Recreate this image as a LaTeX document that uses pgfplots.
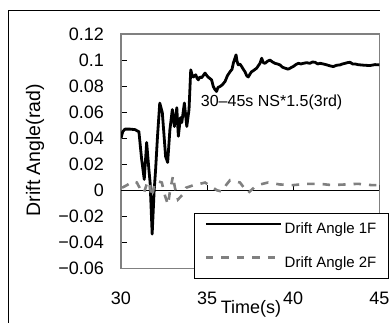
\documentclass[border=0pt]{standalone}
\usepackage{pgfplots}
\pgfplotsset{compat=1.18}
\usepackage{fontspec}
\setmainfont{Liberation Sans}
\begin{document}
\begin{tikzpicture}[x=1pt,y=1pt]
\useasboundingbox (0,0) rectangle (390,-323);
\draw[black, line width=1pt] (8,-323) -- (8,-11) -- (380,-11);
\begin{axis}[
  at={(121pt,-268.5pt)}, anchor=south west,
  scale only axis, width=258.3pt, height=234.5pt,
  xmin=30, xmax=45, ymin=-0.06, ymax=0.12,
  axis line style={draw=gray, line width=1.6pt},
  xtick={30,35,40,45}, xticklabels={30,35,40,45},
  ytick={-0.06,-0.04,-0.02,0,0.02,0.04,0.06,0.08,0.1,0.12},
  yticklabels={−0.06,−0.04,−0.02,0,0.02,0.04,0.06,0.08,0.1,0.12},
  tick pos=left, tick align=inside,
  x tick style={draw=none},
  y tick style={black, line width=0.8pt},
  major tick length=6pt,
  yticklabel style={font=\fontsize{18}{20}\selectfont, anchor=east, inner sep=0pt, xshift=-17pt},
  xticklabel style={font=\fontsize{18}{20}\selectfont, anchor=north, inner sep=0pt, yshift=-23pt},
  xlabel={Time(s)}, ylabel={Drift Angle(rad)},
  xlabel style={font=\fontsize{18}{20}\selectfont, at={(axis description cs:0.503,0)}, anchor=center, yshift=-40.5pt},
  ylabel style={font=\fontsize{19.5}{21}\selectfont, at={(axis description cs:-0.333,0.505)}, anchor=center},
  legend style={at={(0.2826,0.2367)}, anchor=north west, draw=black, line width=0.8pt, fill=white,
    font=\fontsize{15}{17}\selectfont, inner xsep=10pt, inner ysep=7pt, row sep=16pt, nodes={inner sep=2.5pt}},
  legend cell align=left,
  legend image code/.code={\draw[#1] (0pt,5pt) -- (75pt,5pt);},
]
\addplot[black, line width=0.8pt, forget plot] coordinates {(30,0) (45,0)};
\draw[black, line width=0.8pt] (axis cs:35,0) -- ++(0pt,5.5pt);
\draw[black, line width=0.8pt] (axis cs:40,0) -- ++(0pt,5.5pt);
\draw[black, line width=0.8pt] (axis cs:45,0) -- ++(0pt,5.5pt);
\addplot[black, line width=2.8pt, line join=round] coordinates {
(30.00,0.040) (30.10,0.045) (30.23,0.047) (30.52,0.047) (30.81,0.0466) (31.04,0.045) (31.20,0.0237)
(31.35,0.0084) (31.49,0.0367) (31.62,0.016) (31.69,0.006) (31.81,-0.0336) (31.92,-0.0015)
(32.01,0.016) (32.12,0.0415) (32.25,0.067) (32.40,0.0596) (32.59,0.026) (32.71,0.0214)
(32.84,0.0466) (32.98,0.062) (33.10,0.049) (33.24,0.0634) (33.33,0.0415) (33.45,0.0558)
(33.53,0.052) (33.68,0.067) (33.82,0.049) (33.95,0.062) (34.05,0.0925) (34.12,0.089) (34.20,0.087)
(34.34,0.0887) (34.42,0.086) (34.49,0.0848) (34.58,0.087) (34.68,0.0864) (34.88,0.090) (34.96,0.0885) (35.05,0.087) (35.15,0.086) (35.26,0.0848)
(35.36,0.0797) (35.45,0.0775) (35.55,0.0759) (35.63,0.079) (35.75,0.0797) (35.88,0.081) (36.04,0.0835) (36.18,0.088) (36.33,0.091) (36.45,0.093) (36.52,0.0975)
(36.68,0.104) (36.74,0.099) (36.81,0.0963) (36.90,0.097) (37.01,0.095) (37.10,0.093) (37.20,0.091) (37.30,0.088) (37.39,0.087) (37.48,0.089) (37.58,0.091)
(37.70,0.092) (37.88,0.0938) (38.07,0.0975) (38.17,0.1014) (38.26,0.098) (38.36,0.0975) (38.50,0.099) (38.65,0.100) (38.80,0.0985) (38.94,0.0975)
(39.08,0.097) (39.23,0.0963) (39.38,0.0945) (39.52,0.0938) (39.71,0.093) (39.85,0.094) (40.00,0.095) (40.15,0.0965) (40.30,0.0975) (40.45,0.097) (40.59,0.0975)
(40.78,0.098) (40.97,0.0975) (41.12,0.0985) (41.27,0.0983) (41.42,0.097) (41.56,0.0975) (41.75,0.097) (41.95,0.0963) (42.15,0.0955) (42.33,0.095) (42.52,0.096) (42.72,0.0963)
(42.86,0.097) (43.01,0.0975) (43.15,0.098) (43.30,0.0983) (43.45,0.097) (43.60,0.097) (43.75,0.0965) (43.89,0.0963) (44.15,0.096) (44.46,0.0958) (44.75,0.0965) (45.00,0.0963)
};
\addlegendentry{Drift Angle 1F}
\addplot[gray, line width=2.6pt, dash pattern=on 7.5pt off 8pt] coordinates {
(30.06,0.002) (30.35,0.004) (30.69,0.007) (30.92,0.006) (31.16,0.0) (31.33,-0.002)
(31.50,0.005) (31.62,0.007) (31.79,-0.005) (31.97,0.006) (32.14,0.007) (32.37,0.006)
(32.55,-0.004) (32.73,-0.011) (32.84,-0.001) (33.02,0.011) (33.13,0.002) (33.31,-0.007)
(33.60,-0.003) (33.78,0.002) (34.01,0.003) (34.30,0.0045) (34.59,0.005) (34.88,0.006)
(35.11,0.004) (35.34,0.002) (35.58,0.0) (35.87,-0.001) (36.10,0.004) (36.33,0.0078)
(36.62,0.007) (36.91,0.006) (37.14,0.002) (37.38,-0.002) (37.72,0.002) (38.07,0.0045)
(38.54,0.006) (39.23,0.0045) (39.98,0.004) (40.79,0.005) (41.55,0.005) (42.25,0.004)
(43.00,0.0045) (43.76,0.005) (44.57,0.004) (45.00,0.004)
};
\addlegendentry{Drift Angle 2F}
\node[anchor=west, inner sep=0pt, font=\fontsize{16}{18}\selectfont] at (axis cs:34.63,0.0673) {30–45s NS*1.5(3rd)};
\end{axis}
\end{tikzpicture}
\end{document}
